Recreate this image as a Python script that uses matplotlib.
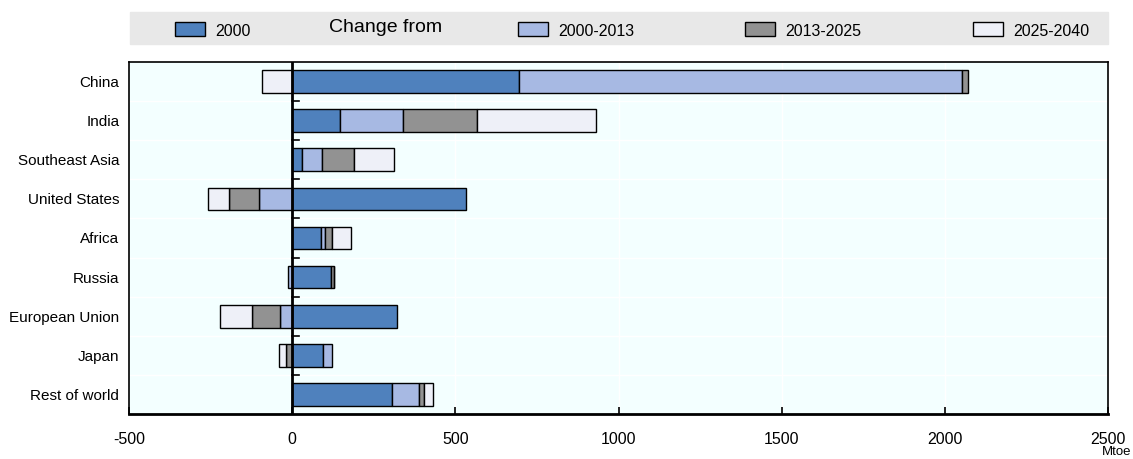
import numpy as np
import matplotlib.pyplot as plt
from matplotlib.patches import Rectangle
from matplotlib import font_manager

names = {f.name for f in font_manager.fontManager.ttflist}
fam = 'Liberation Sans Narrow' if 'Liberation Sans Narrow' in names else 'Liberation Sans'
plt.rcParams['font.family'] = [fam, 'DejaVu Sans']

regions = ['China', 'India', 'Southeast Asia', 'United States', 'Africa',
           'Russia', 'European Union', 'Japan', 'Rest of world']
v2000 = [694, 146, 30, 533, 89, 119, 320, 96, 307]
d0013 = [1358, 195, 60, -101, 12, -14, -36, 25, 83]
d1325 = [19, 226, 98, -94, 21, 8, -86, -19, 13]
d2540 = [-93, 365, 124, -62, 59, 0, -98, -21, 30]

labels = ['2000', '2000-2013', '2013-2025', '2025-2040']
colors = ['#4F81BD', '#A7B9E3', '#929292', '#EEF0F8']
series = [v2000, d0013, d1325, d2540]

fig = plt.figure(figsize=(11.33, 4.59), dpi=100)
ax = fig.add_axes([129/1133, 1-414/459, (1108-129)/1133, (414-62)/459])
ax.set_facecolor('#F3FFFF')

y = np.arange(len(regions))
pos = np.zeros(len(regions))
neg = np.zeros(len(regions))
for vals, col in zip(series, colors):
    vals = np.array(vals, dtype=float)
    left = np.where(vals >= 0, pos, neg)
    ax.barh(y, vals, left=left, height=0.58, color=col, edgecolor='black',
            linewidth=1.0, zorder=3)
    pos = pos + np.where(vals >= 0, vals, 0)
    neg = neg + np.where(vals < 0, vals, 0)

ax.set_xlim(-500, 2500)
ax.set_ylim(len(regions)-0.5, -0.5)
ax.set_xticks(np.arange(-500, 2501, 500))
ax.set_xticklabels([str(v) for v in range(-500, 2501, 500)], fontsize=11.5)
ax.set_yticks(y)
ax.set_yticklabels(regions, fontsize=11)
ax.tick_params(axis='y', length=0, pad=7)
ax.tick_params(axis='x', direction='in', length=5, width=1.2, pad=13)
for b in np.arange(0.5, len(regions)-0.5, 1):
    ax.axhline(b, color='white', lw=1, zorder=1)
    ax.plot([0, 22], [b, b], color='black', lw=1.2, zorder=4)
for xv in range(500, 2500, 500):
    ax.axvline(xv, color='white', lw=1, zorder=1)
ax.axvline(0, color='black', lw=2, zorder=4)
for s in ax.spines.values():
    s.set_linewidth(1.2)
ax.spines['bottom'].set_linewidth(2)

fig.text(1131/1133, 1-458/459, 'Mtoe', fontsize=9.5, ha='right', va='bottom')

# legend band
fig.patches.append(Rectangle((130/1133, 1-44/459), (1108-130)/1133, 32/459,
                             transform=fig.transFigure, color='#E8E8E8', zorder=0))
leg_x = [175, 518, 745, 973]
for lx, lab, col in zip(leg_x, labels, colors):
    fig.patches.append(Rectangle((lx/1133, 1-36/459), 30/1133, 14/459,
                                 transform=fig.transFigure, facecolor=col,
                                 edgecolor='black', lw=1))
    fig.text((lx+40)/1133, 1-31/459, lab, fontsize=11.5, va='center', ha='left')
fig.text(386/1133, 1-28/459, 'Change from', fontsize=14, va='center', ha='center')

fig.savefig('out.png', dpi=100)
